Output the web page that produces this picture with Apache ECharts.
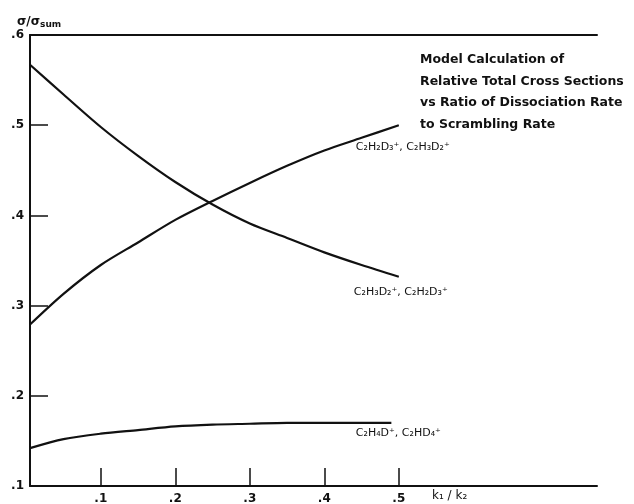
<!DOCTYPE html>
<html>
<head>
<meta charset="utf-8">
<script src="https://cdn.jsdelivr.net/npm/echarts@6/dist/echarts.min.js"></script>
<style>
html,body{margin:0;padding:0;background:#fff;}
#chart{width:634px;height:504px;}
</style>
</head>
<body>
<div id="chart"></div>
<script>
// k1/k2 ratio values
const ratioValues = [0.005, 0.05, 0.1, 0.15, 0.2, 0.25, 0.3, 0.35, 0.4, 0.45, 0.5];
const ratioValuesC = [0.005, 0.05, 0.1, 0.15, 0.2, 0.25, 0.3, 0.35, 0.4, 0.45, 0.49];
// sigma / sigma_sum for each ion pair
const seriesA = [0.567, 0.534, 0.498, 0.466, 0.437, 0.412, 0.391, 0.375, 0.359, 0.345, 0.332]; // C2H3D2+, C2H2D3+
const seriesB = [0.279, 0.313, 0.345, 0.370, 0.395, 0.416, 0.436, 0.455, 0.472, 0.486, 0.500]; // C2H2D3+, C2H3D2+
const seriesC = [0.142, 0.152, 0.158, 0.162, 0.166, 0.168, 0.169, 0.170, 0.170, 0.170, 0.170]; // C2H4D+, C2HD4+
const labelA = 'C\u2082H\u2083D\u2082\u207A, C\u2082H\u2082D\u2083\u207A';
const labelB = 'C\u2082H\u2082D\u2083\u207A, C\u2082H\u2083D\u2082\u207A';
const labelC = 'C\u2082H\u2084D\u207A, C\u2082HD\u2084\u207A';
const xTicks = [0.1, 0.2, 0.3, 0.4, 0.5];
const yTicks = [0.1, 0.2, 0.3, 0.4, 0.5, 0.6];
const titleLines = ['Model Calculation of', 'Relative Total Cross Sections', 'vs Ratio of Dissociation Rate', 'to Scrambling Rate'];

const zip = (xs, ys) => xs.map((x, i) => [x, ys[i]]);
const fmt = v => '.' + Math.round(v * 10);
const ink = '#111';
const font = 'DejaVu Sans';

const chart = echarts.init(document.getElementById('chart'), null, {renderer: 'canvas'});

function mkSeries(name, xs, ys, label, off) {
  return {
    name: name, type: 'line', smooth: 0.3, showSymbol: false, symbol: 'none',
    data: zip(xs, ys),
    lineStyle: {color: ink, width: 2.2},
    itemStyle: {color: ink},
    endLabel: {
      show: true, formatter: label, color: ink, fontFamily: font, fontSize: 11,
      align: 'center', verticalAlign: 'middle', offset: off, distance: 0
    },
    emphasis: {disabled: true}
  };
}

chart.setOption({
  animation: false,
  backgroundColor: '#fff',
  title: {
    text: titleLines.join('\n'), left: 415, top: 44,
    textStyle: {fontFamily: font, fontSize: 12.5, fontWeight: 'bold', color: ink, lineHeight: 21.5}
  },
  grid: {left: 30, right: 37, top: 35, bottom: 18, containLabel: false, outerBoundsMode: 'none'},
  xAxis: [{
    type: 'value', min: 0.005, max: 0.766, position: 'bottom',
    axisLine: {show: true, lineStyle: {color: ink, width: 2}},
    axisTick: {show: true, inside: true, length: 18, customValues: xTicks, lineStyle: {color: ink, width: 1.5}},
    axisLabel: {show: true, customValues: xTicks, formatter: fmt, color: ink, fontFamily: font, fontSize: 12, fontWeight: 'bold', margin: 7},
    splitLine: {show: false}
  }, {
    type: 'value', min: 0.005, max: 0.766, position: 'top',
    axisLine: {show: true, onZero: false, lineStyle: {color: ink, width: 2}},
    axisTick: {show: false}, axisLabel: {show: false}, splitLine: {show: false}
  }],
  yAxis: {
    type: 'value', min: 0.1, max: 0.6, interval: 0.1,
    name: '{a|\u03C3/\u03C3}{s|sum}', nameLocation: 'end', nameGap: 6,
    nameTextStyle: {
      align: 'left', padding: [0, 0, 0, -13],
      rich: {
        a: {fontFamily: font, fontSize: 12, fontWeight: 'bold', color: ink},
        s: {fontFamily: font, fontSize: 9, fontWeight: 'bold', color: ink, padding: [5, 0, 0, 0]}
      }
    },
    axisLine: {show: true, lineStyle: {color: ink, width: 2}},
    axisTick: {show: true, inside: true, length: 18, customValues: [0.2, 0.3, 0.4, 0.5], lineStyle: {color: ink, width: 1.5}},
    axisLabel: {show: true, customValues: yTicks, formatter: fmt, color: ink, fontFamily: font, fontSize: 12, fontWeight: 'bold', margin: 6},
    splitLine: {show: false}
  },
  graphic: [{
    type: 'text', left: 432, top: 490,
    style: {text: 'k\u2081 / k\u2082', fontFamily: font, fontSize: 12, fill: ink}
  }],
  series: [
    mkSeries('A', ratioValues, seriesA, labelA, [2, 15]),
    mkSeries('B', ratioValues, seriesB, labelB, [4, 22]),
    mkSeries('C', ratioValuesC, seriesC, labelC, [7, 10])
  ]
});
</script>
</body>
</html>
